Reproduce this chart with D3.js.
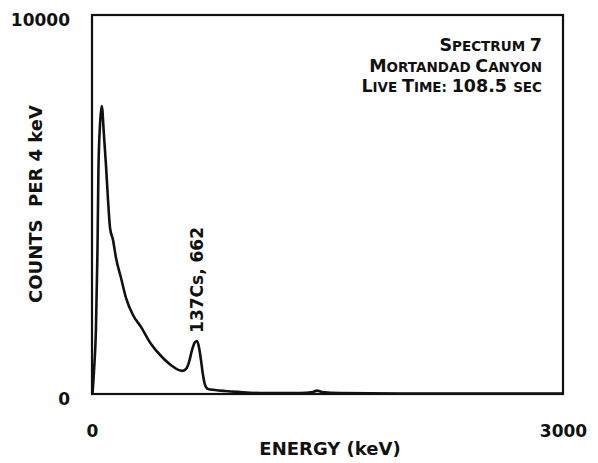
<!DOCTYPE html>
<html>
<head>
<meta charset="utf-8">
<script src="https://cdn.jsdelivr.net/npm/d3@7"></script>
<style>
  html, body { margin: 0; padding: 0; background: #fff; }
  svg { display: block; }
  .ax { font-family: "DejaVu Sans", sans-serif; font-weight: bold; fill: #111; }
  .ann { font-family: "DejaVu Sans", sans-serif; font-weight: bold; fill: #111; }
</style>
</head>
<body>
<svg id="chart" width="598" height="463"></svg>
<script>
// Energy (keV) and counts per 4 keV
const energy = [3, 13, 25, 35, 41, 51, 62, 76, 89, 102, 115, 134, 153, 185, 217, 261, 312, 376, 446, 510, 573, 599, 618, 637, 656, 669, 681, 694, 707, 720, 739, 783, 847, 930, 1070, 1325, 1408, 1433, 1465, 1580, 1962, 3000];
const counts = [0, 630, 1690, 3800, 5910, 7100, 7600, 6840, 6040, 5120, 4380, 4060, 3590, 3060, 2530, 2085, 1770, 1320, 976, 740, 610, 660, 840, 1160, 1370, 1400, 1240, 900, 500, 240, 130, 105, 80, 55, 25, 25, 55, 90, 55, 25, 15, 15];
const xTicks = [0, 3000];
const yTicks = [0, 10000];
const xTitle = "ENERGY (keV)";
const yTitle = "COUNTS  PER 4 keV";
const peakLabel = { energy: 662, counts: 1400, text: "137Cs, 662" };

const svg = d3.select("#chart");
const m = { left: 92, right: 35, top: 15, bottom: 69 };
const W = 598, H = 463;
const x = d3.scaleLinear().domain([0, 3000]).range([m.left, W - m.right]);
const y = d3.scaleLinear().domain([0, 10000]).range([H - m.bottom, m.top]);

// axes (labels only)
const xAxis = svg.append("g")
  .attr("transform", `translate(0,${H - m.bottom})`)
  .call(d3.axisBottom(x).tickValues(xTicks).tickSize(0).tickPadding(31).tickFormat(d3.format("d")));
xAxis.select(".domain").remove();
xAxis.selectAll("text").attr("class", "ax").style("font-size", "17px").attr("font-family", null);

const yAxis = svg.append("g")
  .attr("transform", `translate(${m.left},0)`)
  .call(d3.axisLeft(y).tickValues(yTicks).tickSize(0).tickPadding(22).tickFormat(d3.format("d")));
yAxis.select(".domain").remove();
yAxis.selectAll("text").attr("class", "ax").style("font-size", "17px").attr("dy", "0.62em").attr("font-family", null);

// frame
svg.append("rect")
  .attr("x", x(0)).attr("y", y(10000))
  .attr("width", x(3000) - x(0)).attr("height", y(0) - y(10000))
  .attr("fill", "none").attr("stroke", "#111").attr("stroke-width", 2.2);

// spectrum
const line = d3.line().x((d, i) => x(energy[i])).y(d => y(d)).curve(d3.curveMonotoneX);
svg.append("path").datum(counts)
  .attr("d", line)
  .attr("fill", "none").attr("stroke", "#111").attr("stroke-width", 2.6)
  .attr("stroke-linejoin", "round");

// axis titles
svg.append("text").attr("class", "ax")
  .attr("x", 330).attr("y", 455)
  .attr("text-anchor", "middle").style("font-size", "18px")
  .text(xTitle);
svg.append("text").attr("class", "ax")
  .attr("transform", `translate(42,204) rotate(-90)`)
  .attr("text-anchor", "middle").style("font-size", "18px")
  .style("white-space", "pre")
  .text(yTitle);

// peak label
svg.append("text").attr("class", "ax")
  .attr("transform", `translate(${x(peakLabel.energy) + 7},${y(peakLabel.counts) - 8}) rotate(-90)`)
  .attr("text-anchor", "start").style("font-size", "17px")
  .text(peakLabel.text);

// annotation (small caps)
const annLines = [
  [["S", 1], ["PECTRUM ", 0], ["7", 1]],
  [["M", 1], ["ORTANDAD ", 0], ["C", 1], ["ANYON", 0]],
  [["L", 1], ["IVE ", 0], ["T", 1], ["IME: ", 0], ["108.5 ", 1], ["SEC", 0]]
];
const annY = [51, 71.5, 92];
annLines.forEach((parts, i) => {
  const t = svg.append("text").attr("class", "ann")
    .attr("x", 542).attr("y", annY[i]).attr("text-anchor", "end")
    .style("white-space", "pre");
  parts.forEach(([s, big]) => t.append("tspan").style("font-size", big ? "17.5px" : "13.5px").text(s));
});
</script>
</body>
</html>
